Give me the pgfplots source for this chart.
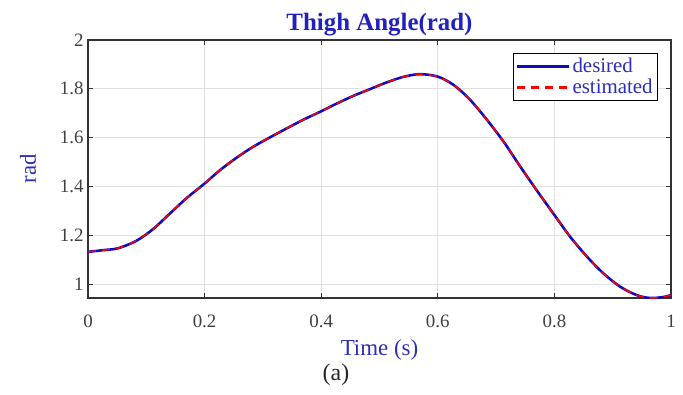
\documentclass[border=0pt]{standalone}
\usepackage{pgfplots}
\pgfplotsset{compat=1.18}
\usepackage{fontspec}
\setmainfont{Liberation Serif}
\definecolor{lblue}{rgb}{0.18,0.18,0.72}
\definecolor{tblue}{rgb}{0.13,0.13,0.75}
\definecolor{dblue}{rgb}{0.05,0.05,0.75}
\begin{document}
\begin{tikzpicture}
\path[use as bounding box] (-88bp,-97bp) rectangle (595bp,298bp);
\begin{axis}[
  at={(0,0)}, anchor=south west,
  scale only axis,
  width=583bp, height=258bp,
  xmin=0, xmax=1, ymin=0.943, ymax=2,
  xtick={0,0.2,0.4,0.6,0.8,1},
  ytick={1,1.2,1.4,1.6,1.8,2},
  xticklabels={0,0.2,0.4,0.6,0.8,1},
  yticklabels={1,1.2,1.4,1.6,1.8,2},
  tick align=inside,
  major tick length=5bp,
  tick style={black!80, line width=1pt},
  axis line style={black!80, line width=1.6pt},
  grid=major,
  major grid style={black!12, line width=0.8pt},
  ticklabel style={font=\fontsize{19}{20}\selectfont, text=black!75},
  xticklabel style={yshift=-13bp},
  yticklabel style={xshift=-1bp},
  title={\textbf{Thigh Angle(rad)}},
  title style={font=\fontsize{25}{26}\selectfont, text=tblue, at={(0.5,1)}, anchor=south, yshift=-5bp},
  xlabel={Time (s)},
  ylabel={rad},
  xlabel style={font=\fontsize{23}{24}\selectfont, text=lblue, at={(0.5,0)}, anchor=north, yshift=-38bp},
  ylabel style={font=\fontsize{23}{24}\selectfont, text=lblue, at={(-0.103,0.5)}, anchor=center},
  legend style={at={(0.978,0.95)}, anchor=north east, draw=black, line width=1pt,
    font=\fontsize{21}{23}\selectfont, text=lblue, inner sep=3bp, row sep=1bp,
    cells={anchor=west}},
  legend image code/.code={\draw[#1, line width=2.4pt] (0bp,0bp) -- (52bp,0bp);},
]
\addplot[dblue, line width=2.6pt, smooth] coordinates {
(0,1.132) (0.026,1.139) (0.052,1.147) (0.0835,1.178) (0.112,1.226) (0.140,1.288)
(0.169,1.352) (0.2,1.412) (0.226,1.466) (0.255,1.518) (0.283,1.562) (0.312,1.601)
(0.341,1.638) (0.369,1.673) (0.4,1.708) (0.427,1.740) (0.456,1.772) (0.485,1.800)
(0.512,1.826) (0.541,1.849) (0.569,1.860) (0.6,1.850) (0.627,1.816) (0.655,1.756)
(0.684,1.674) (0.713,1.583) (0.741,1.483) (0.770,1.383) (0.8,1.283) (0.827,1.194)
(0.856,1.112) (0.884,1.044) (0.913,0.989) (0.941,0.955) (0.964,0.943) (0.987,0.947) (1.0,0.955)
};
\addlegendentry{desired}
\addplot[red, line width=1.6pt, dash pattern=on 8bp off 6bp, smooth] coordinates {
(0,1.132) (0.026,1.139) (0.052,1.147) (0.0835,1.178) (0.112,1.226) (0.140,1.288)
(0.169,1.352) (0.2,1.412) (0.226,1.466) (0.255,1.518) (0.283,1.562) (0.312,1.601)
(0.341,1.638) (0.369,1.673) (0.4,1.708) (0.427,1.740) (0.456,1.772) (0.485,1.800)
(0.512,1.826) (0.541,1.849) (0.569,1.860) (0.6,1.850) (0.627,1.816) (0.655,1.756)
(0.684,1.674) (0.713,1.583) (0.741,1.483) (0.770,1.383) (0.8,1.283) (0.827,1.194)
(0.856,1.112) (0.884,1.044) (0.913,0.989) (0.941,0.955) (0.964,0.943) (0.987,0.947) (1.0,0.955)
};
\addlegendentry{estimated}
\end{axis}
\node[font=\fontsize{24}{25}\selectfont, text=black!85] at (248bp,-77bp) {(a)};
\end{tikzpicture}
\end{document}
